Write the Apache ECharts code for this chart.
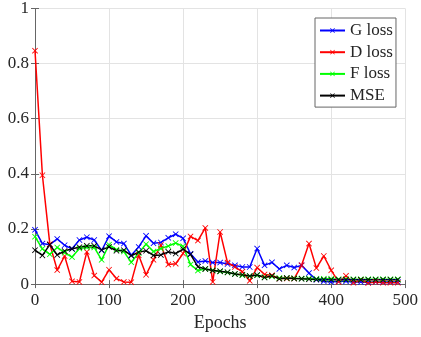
<!DOCTYPE html>
<html><head><meta charset="utf-8">
<script src="https://cdn.jsdelivr.net/npm/echarts@6/dist/echarts.min.js"></script>
<style>html,body{margin:0;padding:0;background:#fff}#c{width:421px;height:337px}</style>
</head><body><div id="c"></div>
<script>
var epochs = [0,10,20,30,40,50,60,70,80,90,100,110,120,130,140,150,160,170,180,190,200,210,220,230,240,250,260,270,280,290,300,310,320,330,340,350,360,370,380,390,400,410,420,430,440,450,460,470,480,490];
var gLoss = [0.197,0.147,0.143,0.164,0.141,0.128,0.160,0.170,0.160,0.122,0.174,0.153,0.147,0.105,0.135,0.175,0.148,0.151,0.168,0.181,0.166,0.110,0.080,0.084,0.078,0.078,0.073,0.068,0.062,0.062,0.129,0.068,0.079,0.055,0.068,0.060,0.068,0.040,0.016,0.010,0.008,0.010,0.010,0.008,0.008,0.007,0.008,0.008,0.008,0.008];
var dLoss = [0.847,0.395,0.145,0.051,0.102,0.010,0.008,0.117,0.031,0.007,0.052,0.020,0.008,0.007,0.105,0.034,0.088,0.142,0.071,0.074,0.111,0.173,0.158,0.204,0.008,0.189,0.078,0.062,0.045,0.012,0.060,0.035,0.032,0.020,0.020,0.020,0.068,0.147,0.058,0.102,0.050,0.008,0.030,0.005,0.015,0.004,0.008,0.005,0.005,0.005];
var fLoss = [0.172,0.128,0.108,0.133,0.114,0.098,0.129,0.133,0.133,0.088,0.143,0.125,0.118,0.079,0.113,0.145,0.118,0.129,0.138,0.149,0.137,0.071,0.049,0.055,0.050,0.046,0.042,0.037,0.032,0.029,0.032,0.025,0.028,0.022,0.022,0.021,0.020,0.020,0.019,0.019,0.019,0.018,0.018,0.018,0.018,0.018,0.018,0.018,0.018,0.018];
var mse = [0.123,0.104,0.143,0.106,0.120,0.128,0.134,0.139,0.139,0.124,0.135,0.121,0.123,0.103,0.116,0.121,0.104,0.106,0.117,0.111,0.127,0.108,0.063,0.055,0.049,0.047,0.043,0.037,0.034,0.029,0.033,0.024,0.030,0.019,0.022,0.020,0.019,0.018,0.017,0.016,0.016,0.016,0.016,0.016,0.016,0.016,0.016,0.016,0.016,0.016];
var seriesNames = ['G loss','D loss','F loss','MSE'];
var seriesColors = ['#0000ff','#ff0000','#00ff00','#000000'];

var xMark = 'path://M0,1L1,0L5,4L9,0L10,1L6,5L10,9L9,10L5,6L1,10L0,9L4,5Z';
var font = 'Liberation Serif';
function pairs(v){ return epochs.map(function(e,i){ return [e, v[i]]; }); }
var allVals = [gLoss, dLoss, fLoss, mse];
var series = allVals.map(function(v,i){
  return {
    name: seriesNames[i], type:'line', data: pairs(v),
    symbol: xMark, symbolSize: 6, showSymbol:true,
    lineStyle:{color:seriesColors[i], width:1.5},
    itemStyle:{color:seriesColors[i]},
    animation:false, xAxisIndex:0, yAxisIndex:0
  };
});
var axisLineStyle = {show:true, lineStyle:{color:'#666', width:1}};
var chart = echarts.init(document.getElementById('c'));
chart.setOption({
  backgroundColor:'#fff',
  animation:false,
  grid:{left:35, right:13, top:8, bottom:51, containLabel:false},
  legend:{
    data:seriesNames, orient:'vertical', left:315, top:18,
    backgroundColor:'#fff', borderColor:'#666', borderWidth:1,
    padding:[4,3,3,4], itemWidth:25, itemHeight:6, itemGap:4.7,
    textStyle:{fontFamily:font, fontSize:17, color:'#262626', lineHeight:17}
  },
  xAxis:[{
    type:'value', min:0, max:500, interval:100, position:'bottom',
    axisLine:axisLineStyle,
    axisTick:{show:true, inside:true, length:4, lineStyle:{color:'#666'}},
    axisLabel:{fontFamily:font, fontSize:17, color:'#262626', margin:8},
    splitLine:{show:true, lineStyle:{color:'#e3e3e3', width:1}},
    name:'Epochs', nameLocation:'middle', nameGap:28,
    nameTextStyle:{fontFamily:font, fontSize:18, color:'#262626'}
  },{
    type:'value', min:0, max:500, interval:100, position:'top',
    axisLine:axisLineStyle,
    axisTick:{show:true, inside:true, length:4, lineStyle:{color:'#666'}},
    axisLabel:{show:false}, splitLine:{show:false}
  }],
  yAxis:[{
    type:'value', min:0, max:1, interval:0.2, position:'left',
    axisLine:axisLineStyle,
    axisTick:{show:true, inside:true, length:4, lineStyle:{color:'#666'}},
    axisLabel:{fontFamily:font, fontSize:17, color:'#262626', margin:6},
    splitLine:{show:true, lineStyle:{color:'#e3e3e3', width:1}}
  },{
    type:'value', min:0, max:1, interval:0.2, position:'right',
    axisLine:axisLineStyle,
    axisTick:{show:true, inside:true, length:4, lineStyle:{color:'#666'}},
    axisLabel:{show:false}, splitLine:{show:false}
  }],
  series: series
});
</script>
</body></html>
